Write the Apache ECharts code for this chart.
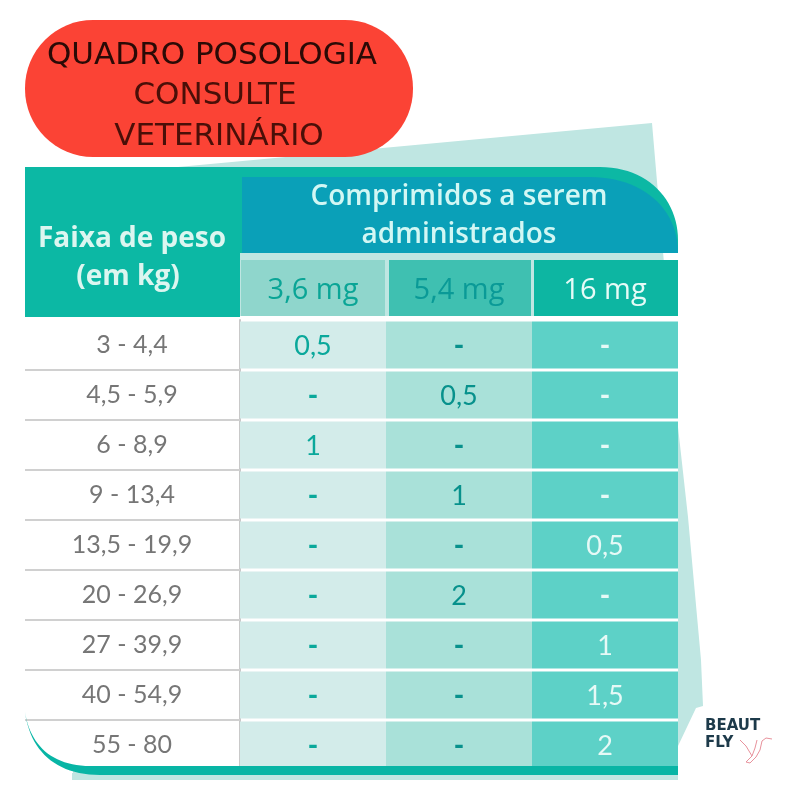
<!DOCTYPE html>
<html>
<head>
<meta charset="utf-8">
<style>
  html, body { margin: 0; padding: 0; background: #fff; }
  #chart { width: 800px; height: 800px; }
</style>
<script src="https://cdn.jsdelivr.net/npm/echarts@6/dist/echarts.min.js"></script>
</head>
<body>
<div id="chart"></div>
<script>
// table content
const weightRanges = ['3 - 4,4', '4,5 - 5,9', '6 - 8,9', '9 - 13,4', '13,5 - 19,9', '20 - 26,9', '27 - 39,9', '40 - 54,9', '55 - 80'];
const tabletSizes = ['3,6 mg', '5,4 mg', '16 mg'];
const dose36 = ['0,5', '-', '1', '-', '-', '-', '-', '-', '-'];
const dose54 = ['-', '0,5', '-', '1', '-', '2', '-', '-', '-'];
const dose16 = ['-', '-', '-', '-', '0,5', '-', '1', '1,5', '2'];

const doseColumns = [dose36, dose54, dose16];
const cellColors = ['#d3ecea', '#a9e1d9', '#5dd1c7'];
const cellTextColors = ['#0aa89b', '#07918c', '#e6f9f6'];
const headColors = ['#8fd6cc', '#3fc0b1', '#0db6a2'];
const headTextColors = ['#0aa596', '#0a9a97', '#e6fbf7'];
const uiFont = 'Lato, "Open Sans", sans-serif';
const headFont = '"Open Sans", Lato, sans-serif';
const titleFont = '"DejaVu Sans", sans-serif';

let cells = [];
doseColumns.forEach((col, c) => {
    col.forEach((label, r) => cells.push([c, r, label]));
});

let chart = echarts.init(document.getElementById('chart'));

// 三次贝塞尔取点，用来画圆角
function curve(x0, y0, x1, y1, x2, y2, x3, y3) {
    let pts = [];
    for (let i = 0; i <= 24; i++) {
        let t = i / 24, u = 1 - t;
        pts.push([
            u * u * u * x0 + 3 * u * u * t * x1 + 3 * u * t * t * x2 + t * t * t * x3,
            u * u * u * y0 + 3 * u * u * t * y1 + 3 * u * t * t * y2 + t * t * t * y3
        ]);
    }
    return pts;
}

// 单元格：位置全部来自坐标轴
function renderCell(params, api) {
    let c = api.value(0);
    let pos = api.coord([c, api.value(1)]);
    let size = api.size([1, 1]);
    let label = cells[params.dataIndex][2];
    let isDash = label === '-';
    return {
        type: 'group',
        children: [
            {
                type: 'rect',
                shape: { x: pos[0] - size[0] / 2, y: pos[1] - size[1] / 2 + 1.5, width: size[0], height: size[1] - 3 },
                style: { fill: cellColors[c] }
            },
            {
                type: 'text',
                style: {
                    x: pos[0],
                    y: pos[1] + 1,
                    text: label,
                    fill: cellTextColors[c],
                    font: (isDash ? '900 28px ' : '400 27px ') + uiFont,
                    textAlign: 'center',
                    textVerticalAlign: 'middle'
                }
            }
        ]
    };
}

chart.setOption({
    animation: false,
    backgroundColor: '#fff',
    grid: { left: 240, top: 320, width: 438, height: 450 },
    xAxis: {
        type: 'category',
        position: 'top',
        data: tabletSizes,
        axisLine: { show: false },
        axisTick: { show: false },
        axisLabel: {
            margin: 15,
            fontSize: 29,
            fontWeight: 500,
            fontFamily: headFont,
            color: (v, i) => headTextColors[i]
        }
    },
    yAxis: {
        type: 'category',
        inverse: true,
        data: weightRanges,
        axisLine: { show: true, lineStyle: { color: '#c9c9c9', width: 2 } },
        axisTick: {
            show: true,
            length: 215,
            interval: (i) => i > 0,
            lineStyle: { color: '#d0d0d0', width: 2 }
        },
        axisLabel: {
            margin: 108,
            align: 'center',
            fontSize: 25,
            fontWeight: 400,
            fontFamily: uiFont,
            color: '#767676'
        }
    },
    series: [{
        type: 'custom',
        renderItem: renderCell,
        data: cells,
        encode: { x: 0, y: 1 },
        z: 2
    }],
    graphic: [
        // 背景浅色块
        { type: 'polygon', z: -3, shape: { points: [[178, 167], [652, 123], [678, 427], [688, 517], [701, 660], [703, 706], [696, 708], [678, 746], [678, 780], [72, 780], [72, 170]] }, style: { fill: '#bfe6e2' } },
        { type: 'rect', z: -2, shape: { x: 25, y: 316, width: 653, height: 454 }, style: { fill: '#fff' } },
        // 表头
        { type: 'polygon', z: -1, shape: { points: [[25, 167]].concat(curve(600, 167, 648, 167, 678, 200, 678, 240), [[678, 253], [240, 253], [240, 317], [25, 317]]) }, style: { fill: '#0cb8a4' } },
        { type: 'polygon', z: -1, shape: { points: [[242, 177]].concat(curve(590, 177, 642, 177, 678, 208, 678, 253), [[242, 253]]) }, style: { fill: '#0aa0b8' } },
        { type: 'rect', z: -1, shape: { x: 241, y: 260, width: 144, height: 56 }, style: { fill: headColors[0] } },
        { type: 'rect', z: -1, shape: { x: 389, y: 260, width: 142, height: 56 }, style: { fill: headColors[1] } },
        { type: 'rect', z: -1, shape: { x: 534, y: 260, width: 144, height: 56 }, style: { fill: headColors[2] } },
        { type: 'text', z: 5, style: { x: 459, y: 197, text: 'Comprimidos a serem', fill: '#d2f7f4', font: '600 28px ' + headFont, textAlign: 'center', textVerticalAlign: 'middle' } },
        { type: 'text', z: 5, style: { x: 459, y: 235, text: 'administrados', fill: '#d2f7f4', font: '600 28px ' + headFont, textAlign: 'center', textVerticalAlign: 'middle' } },
        { type: 'text', z: 5, style: { x: 132, y: 239, text: 'Faixa de peso', fill: '#dcf6f0', font: '700 28px ' + headFont, textAlign: 'center', textVerticalAlign: 'middle' } },
        { type: 'text', z: 5, style: { x: 128, y: 277, text: '(em kg)', fill: '#dcf6f0', font: '700 28px ' + headFont, textAlign: 'center', textVerticalAlign: 'middle' } },
        // 遮住最后一条刻度线伸出弧线的部分
        { type: 'rect', z: 5, shape: { x: 23, y: 768, width: 50, height: 5 }, style: { fill: '#fff' } },
        // 底部弧线
        { type: 'polygon', z: 6, shape: { points: curve(25, 712, 30, 745, 52, 766, 90, 766).concat([[678, 766], [678, 775]], curve(100, 775, 55, 775, 30, 750, 25, 712)) }, style: { fill: '#08b5a5' } },
        // 标题
        { type: 'rect', z: 7, shape: { x: 25, y: 20, width: 388, height: 137, r: 68 }, style: { fill: '#fb4335' } },
        { type: 'text', z: 8, style: { x: 212, y: 56, text: 'QUADRO POSOLOGIA', fill: '#2a0a06', font: '400 31px ' + titleFont, textAlign: 'center', textVerticalAlign: 'middle' } },
        { type: 'text', z: 8, style: { x: 215, y: 96, text: 'CONSULTE', fill: '#4a0f08', font: '400 31px ' + titleFont, textAlign: 'center', textVerticalAlign: 'middle' } },
        { type: 'text', z: 8, style: { x: 219, y: 137, text: 'VETERINÁRIO', fill: '#4a0f08', font: '400 31px ' + titleFont, textAlign: 'center', textVerticalAlign: 'middle' } },
        // logo
        { type: 'text', z: 8, style: { x: 705, y: 726, text: 'BEAUT', fill: '#1d3a4a', font: '700 15px ' + titleFont, textAlign: 'left', textVerticalAlign: 'middle' } },
        { type: 'text', z: 8, style: { x: 705, y: 743, text: 'FLY', fill: '#1d3a4a', font: '700 15px ' + titleFont, textAlign: 'left', textVerticalAlign: 'middle' } },
        { type: 'polyline', z: 8, shape: { points: [[740, 740], [746, 746], [752, 756], [746, 762], [750, 763], [756, 757], [760, 750], [762, 741], [766, 738], [772, 739]] }, style: { fill: 'none', stroke: '#e8929c', lineWidth: 1 } },
        { type: 'polyline', z: 8, shape: { points: [[752, 756], [755, 748], [757, 740]] }, style: { fill: 'none', stroke: '#e8929c', lineWidth: 1 } }
    ]
});
</script>
</body>
</html>
